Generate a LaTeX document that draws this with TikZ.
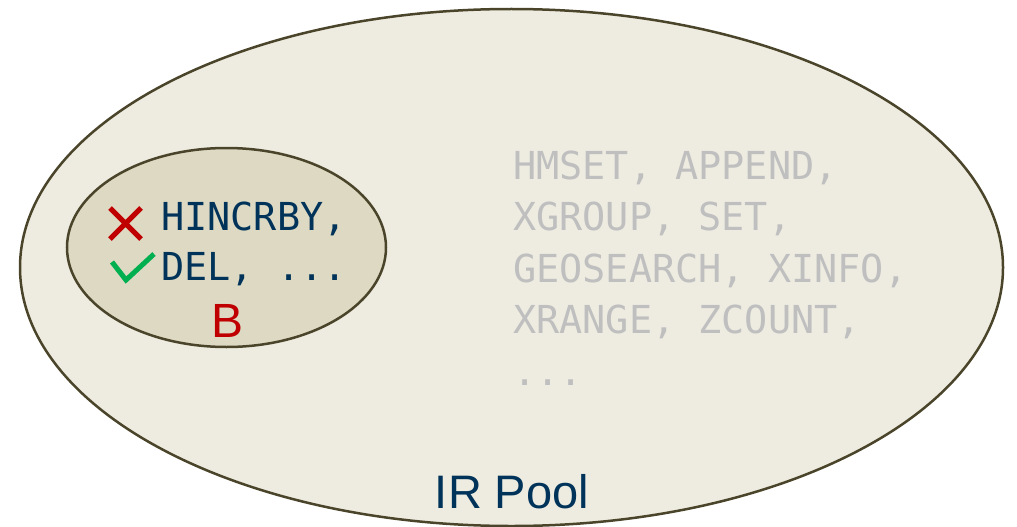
\documentclass[tikz,border=0pt]{standalone}
\usepackage{fontspec}
\usetikzlibrary{shapes.geometric}
\setmainfont{Liberation Sans}
\newfontfamily\codefont{DejaVu Sans Mono}
\definecolor{poolfill}{HTML}{EEECE1}
\definecolor{subfill}{HTML}{DDD9C3}
\definecolor{rim}{HTML}{4A452A}
\definecolor{navy}{HTML}{003359}
\definecolor{mutedgray}{HTML}{BFBFBF}
\definecolor{badred}{HTML}{C00000}
\definecolor{goodgreen}{HTML}{00B050}
\begin{document}
\begin{tikzpicture}[x=1pt,y=-1pt,
  setshape/.style={ellipse, draw=rim, line width=2.5pt, inner sep=0pt},
  cmdtext/.style={inner sep=0pt, anchor=base west, align=left},
  label/.style={inner sep=0pt, anchor=base}]
  \useasboundingbox (0,0) rectangle (1017,527);
  % the pool of all commands
  \node[setshape, fill=poolfill, minimum width=983pt, minimum height=517pt] (pool) at (511.5,267.5) {};
  % the subset B
  \node[setshape, fill=subfill, minimum width=319pt, minimum height=199pt] (sub) at (226.5,247.5) {};
  % commands in B (anchored at the baseline of the last line)
  \node[cmdtext, text=navy, font=\codefont\fontsize{38.5}{50}\selectfont] (bcmds) at (161,280)
    {HINCRBY,\\DEL, ...};
  \node[label, text=badred, font=\fontsize{48}{56}\selectfont] (bname) at (227.5,337) {B};
  % marks
  \draw[badred, line width=5pt] (110,208) -- (141,239) (141,208) -- (110,239);
  \draw[goodgreen, line width=5pt] (112,262) -- (126,280) -- (154,254);
  % remaining commands
  \node[cmdtext, text=mutedgray, font=\codefont\fontsize{38.5}{51.5}\selectfont] (others) at (513,385)
    {HMSET, APPEND,\\XGROUP, SET,\\GEOSEARCH, XINFO,\\XRANGE, ZCOUNT,\\...};
  \node[label, text=navy, font=\fontsize{47}{56}\selectfont] (poolname) at (512,508) {IR Pool};
\end{tikzpicture}
\end{document}
